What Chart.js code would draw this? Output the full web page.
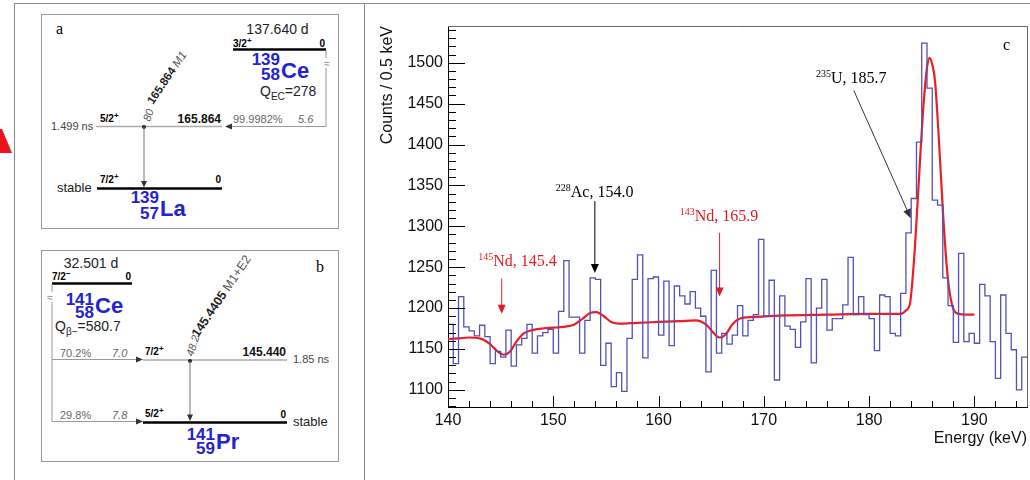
<!DOCTYPE html>
<html><head><meta charset="utf-8">
<script src="https://cdn.jsdelivr.net/npm/chart.js@4.4.1/dist/chart.umd.min.js"></script>
<style>
html,body{margin:0;padding:0;background:#fff;}
#wrap{position:relative;width:1030px;height:480px;overflow:hidden;background:#fff;}
#scheme{position:absolute;left:0;top:0;}
#c{position:absolute;left:365px;top:0;}
</style></head><body>
<div id="wrap">
<svg id="scheme" width="1030" height="480" xmlns="http://www.w3.org/2000/svg" font-family="Liberation Sans, Arial, sans-serif">
  <polygon points="0,129 2,129 12,153 0,153" fill="#e8141e"/>
  <rect x="14.5" y="3.5" width="350" height="490" fill="none" stroke="#8a8a8a" stroke-width="1"/>
  <line x1="364" y1="3.5" x2="1030" y2="3.5" stroke="#8a8a8a" stroke-width="1"/>
  <!-- panel a -->
  <rect x="41.5" y="14.5" width="297" height="214" fill="none" stroke="#9a9a9a" stroke-width="1"/>
  <text x="56" y="34" font-family="Liberation Serif, Times New Roman, serif" font-size="16">a</text>
  <text x="277.5" y="33.5" font-size="14" text-anchor="middle" fill="#222">137.640 d</text>
  <text x="233" y="47" font-size="10" font-weight="bold">3/2<tspan dy="-4" font-size="8">+</tspan></text>
  <text x="325" y="47" font-size="10" font-weight="bold" text-anchor="end">0</text>
  <line x1="233" y1="49.5" x2="326" y2="49.5" stroke="#000" stroke-width="2.5"/>
  <text x="280" y="65" font-size="17" font-weight="bold" fill="#2323d2" text-anchor="end">139</text>
  <text x="280" y="80" font-size="17" font-weight="bold" fill="#2323d2" text-anchor="end">58</text>
  <text x="281" y="78" font-size="22" font-weight="bold" fill="#2323d2">Ce</text>
  <line x1="326" y1="50" x2="326" y2="58" stroke="#999" stroke-width="1"/>
  <text x="327" y="67" font-size="10" fill="#777" text-anchor="middle">≈</text>
  <line x1="326" y1="68" x2="326" y2="126.5" stroke="#999" stroke-width="1"/>
  <line x1="326" y1="126.5" x2="231" y2="126.5" stroke="#999" stroke-width="1"/>
  <polygon points="225,126.5 232,123.5 232,129.5" fill="#333"/>
  <text x="260" y="96" font-size="14" fill="#222">Q<tspan font-size="10" dy="4">EC</tspan><tspan font-size="14" dy="-4">=278</tspan></text>
  <text x="51" y="130" font-size="11" fill="#444">1.499 ns</text>
  <text x="100" y="122" font-size="10" font-weight="bold">5/2<tspan dy="-4" font-size="8">+</tspan></text>
  <line x1="96" y1="126.5" x2="222" y2="126.5" stroke="#aaa" stroke-width="1.5"/>
  <text x="221" y="123" font-size="12" font-weight="bold" text-anchor="end" fill="#111">165.864</text>
  <text x="233" y="123" font-size="11" fill="#666">99.9982%</text>
  <text x="298" y="123" font-size="11" font-style="italic" fill="#666">5.6</text>
  <text transform="translate(150,122) rotate(-72)" font-size="11" font-style="italic" fill="#555">80</text>
  <text transform="translate(153,105) rotate(-56)" font-size="11.5" fill="#222"><tspan font-weight="bold">165.864</tspan><tspan font-style="italic" fill="#555"> M1</tspan></text>
  <circle cx="144" cy="127" r="2" fill="#222"/>
  <line x1="144" y1="127" x2="144" y2="182" stroke="#777" stroke-width="1"/>
  <polygon points="144,187.5 141,181 147,181" fill="#333"/>
  <text x="57" y="192" font-size="13" fill="#222">stable</text>
  <text x="100" y="183" font-size="10" font-weight="bold">7/2<tspan dy="-4" font-size="8">+</tspan></text>
  <text x="221" y="183" font-size="10" font-weight="bold" text-anchor="end">0</text>
  <line x1="97" y1="188.5" x2="222" y2="188.5" stroke="#000" stroke-width="2.5"/>
  <text x="159" y="203" font-size="17" font-weight="bold" fill="#2323d2" text-anchor="end">139</text>
  <text x="159" y="219" font-size="17" font-weight="bold" fill="#2323d2" text-anchor="end">57</text>
  <text x="160" y="216" font-size="22" font-weight="bold" fill="#2323d2">La</text>
  <!-- panel b -->
  <rect x="41.5" y="250.5" width="297" height="211" fill="none" stroke="#9a9a9a" stroke-width="1"/>
  <text x="316" y="272" font-family="Liberation Serif, Times New Roman, serif" font-size="16">b</text>
  <text x="91" y="268" font-size="14" text-anchor="middle" fill="#222">32.501 d</text>
  <text x="52" y="280" font-size="10" font-weight="bold">7/2<tspan dy="-4" font-size="8">−</tspan></text>
  <text x="131" y="280" font-size="10" font-weight="bold" text-anchor="end">0</text>
  <line x1="52" y1="283.5" x2="132" y2="283.5" stroke="#000" stroke-width="2.5"/>
  <line x1="52" y1="284" x2="52" y2="292" stroke="#999" stroke-width="1"/>
  <text x="50" y="301" font-size="10" fill="#777" text-anchor="middle">≈</text>
  <line x1="52" y1="302" x2="52" y2="421.5" stroke="#999" stroke-width="1"/>
  <text x="94" y="305" font-size="17" font-weight="bold" fill="#2323d2" text-anchor="end">141</text>
  <text x="94" y="318" font-size="17" font-weight="bold" fill="#2323d2" text-anchor="end">58</text>
  <text x="95" y="313" font-size="22" font-weight="bold" fill="#2323d2">Ce</text>
  <text x="55" y="331" font-size="14" fill="#222">Q<tspan font-size="10" dy="4">β−</tspan><tspan font-size="14" dy="-4">=580.7</tspan></text>
  <line x1="52" y1="359.5" x2="137" y2="359.5" stroke="#999" stroke-width="1"/>
  <polygon points="143,359.5 136,356.5 136,362.5" fill="#333"/>
  <text x="60" y="357" font-size="11" fill="#666">70.2%</text>
  <text x="112" y="357" font-size="11" font-style="italic" fill="#666">7.0</text>
  <text x="145" y="355" font-size="10" font-weight="bold">7/2<tspan dy="-4" font-size="8">+</tspan></text>
  <line x1="143" y1="360" x2="287" y2="360" stroke="#aaa" stroke-width="1.5"/>
  <text x="286" y="356" font-size="12" font-weight="bold" text-anchor="end" fill="#111">145.440</text>
  <text x="293" y="363" font-size="11" fill="#444">1.85 ns</text>
  <text transform="translate(193,357) rotate(-72)" font-size="11" font-style="italic" fill="#555">48.2</text>
  <text transform="translate(198,338) rotate(-56)" font-size="12.5" fill="#222"><tspan font-weight="bold">145.4405</tspan><tspan fill="#555"> M1+E2</tspan></text>
  <circle cx="190" cy="361" r="2" fill="#222"/>
  <line x1="190" y1="361" x2="190" y2="416" stroke="#777" stroke-width="1"/>
  <polygon points="190,421 187,414.5 193,414.5" fill="#333"/>
  <line x1="52" y1="421.5" x2="137" y2="421.5" stroke="#999" stroke-width="1"/>
  <polygon points="143,421.5 136,418.5 136,424.5" fill="#333"/>
  <text x="60" y="419" font-size="11" fill="#666">29.8%</text>
  <text x="112" y="419" font-size="11" font-style="italic" fill="#666">7.8</text>
  <text x="145" y="417" font-size="10" font-weight="bold">5/2<tspan dy="-4" font-size="8">+</tspan></text>
  <line x1="143" y1="422.5" x2="287" y2="422.5" stroke="#000" stroke-width="2.5"/>
  <text x="286" y="418" font-size="10" font-weight="bold" text-anchor="end">0</text>
  <text x="293" y="426" font-size="13" fill="#222">stable</text>
  <text x="215" y="440" font-size="17" font-weight="bold" fill="#2323d2" text-anchor="end">141</text>
  <text x="215" y="454" font-size="17" font-weight="bold" fill="#2323d2" text-anchor="end">59</text>
  <text x="216" y="449" font-size="22" font-weight="bold" fill="#2323d2">Pr</text>
</svg>
<canvas id="c" width="665" height="480"></canvas>
</div>
<script>
// ---- data ----
const BIN_START = 140;
const BIN_WIDTH = 0.5;
const counts = [
 1180,1132,1214,1177,1172,1166,1179,1165,1132,1147,
 1140,1173,1129,1155,1163,1180,1145,1166,1170,1174,
 1145,1196,1258,1189,1189,1145,1185,1237,1235,1130,
 1157,1104,1121,1098,1163,1235,1265,1139,1236,1238,
 1167,1233,1154,1227,1215,1205,1220,1200,1190,1122,
 1246,1145,1169,1156,1167,1203,1166,1185,1192,1284,
 1190,1234,1112,1215,1178,1174,1152,1183,1236,1133,
 1200,1235,1173,1187,1187,1204,1262,1192,1214,1192,
 1187,1148,1216,1214,1169,1166,1218,1292,1334,1403,
 1524,1469,1332,1326,1237,1203,1158,1267,1159,1169,
 1157,1229,1215,1159,1114,1216,1169,1149,1100,1140
];
const fitEnergy = [140,141,142,143,144,144.7,145.3,145.9,146.5,147.2,148,149,150,151,152,152.8,153.5,154.1,154.8,155.5,156.3,158,160,162,163.5,164.5,165.2,165.8,166.4,167,167.7,169,172,176,180,183,183.5,183.9,184.35,184.73,185.15,185.5,185.75,186.0,186.26,186.64,187.05,187.47,187.9,188.5,189.2,190];
const fitCounts = [1162,1163,1164,1163,1156,1147,1143,1147,1159,1169,1173,1175,1176,1177,1180,1187,1194,1195,1190,1183,1181,1182,1183,1184,1185,1180,1170,1164,1168,1180,1187,1189,1191,1192,1193,1193,1197,1207,1274,1357,1445,1494,1506,1498,1478,1404,1310,1238,1203,1193,1192,1192];
const xTickLabels = [140,150,160,170,180,190];
const yTickLabels = [1100,1150,1200,1250,1300,1350,1400,1450,1500];
const peakLabels = [
  {sup:'145', text:'Nd, 145.4', energy:145.4},
  {sup:'228', text:'Ac, 154.0', energy:154.0},
  {sup:'143', text:'Nd, 165.9', energy:165.9},
  {sup:'235', text:'U, 185.7',  energy:185.7}
];

// ---- chart ----
const histPoints = counts.map((c,i)=>({x: BIN_START + i*BIN_WIDTH, y: c}));
histPoints.push({x: BIN_START + counts.length*BIN_WIDTH, y: counts[counts.length-1]});
const fitPoints = fitEnergy.map((e,i)=>({x:e, y:fitCounts[i]}));

const SERIF = "'Liberation Serif','Times New Roman',serif";
const SANS = "'Liberation Sans',Arial,sans-serif";

function supLabel(ctx, sup, text, cx, by, color){
  ctx.save();
  ctx.fillStyle = color;
  ctx.textBaseline = 'alphabetic';
  ctx.font = '10px ' + SERIF;
  const ws = ctx.measureText(sup).width;
  ctx.font = '16px ' + SERIF;
  const wt = ctx.measureText(text).width;
  const x0 = cx - (ws + wt)/2;
  ctx.font = '10px ' + SERIF;
  ctx.fillText(sup, x0, by - 6);
  ctx.font = '16px ' + SERIF;
  ctx.fillText(text, x0 + ws, by);
  ctx.restore();
}
function arrow(ctx, x1, y1, x2, y2, color, w){
  ctx.save();
  ctx.strokeStyle = color; ctx.fillStyle = color; ctx.lineWidth = w;
  const a = Math.atan2(y2-y1, x2-x1);
  const L = 9, H = 4;
  ctx.beginPath(); ctx.moveTo(x1,y1); ctx.lineTo(x2 - L*0.8*Math.cos(a), y2 - L*0.8*Math.sin(a)); ctx.stroke();
  ctx.beginPath();
  ctx.moveTo(x2,y2);
  ctx.lineTo(x2 - L*Math.cos(a) + H*Math.sin(a), y2 - L*Math.sin(a) - H*Math.cos(a));
  ctx.lineTo(x2 - L*Math.cos(a) - H*Math.sin(a), y2 - L*Math.sin(a) + H*Math.cos(a));
  ctx.closePath(); ctx.fill();
  ctx.restore();
}

const decor = {
  id: 'decor',
  afterDraw(chart){
    const {ctx, chartArea: a, scales:{x, y}} = chart;
    ctx.save();
    ctx.strokeStyle = '#666'; ctx.lineWidth = 1;
    ctx.beginPath();
    ctx.moveTo(a.left, a.top+0.5); ctx.lineTo(a.right+0.5, a.top+0.5); ctx.lineTo(a.right+0.5, a.bottom);
    ctx.stroke();
    ctx.strokeStyle = '#000';
    ctx.beginPath();
    for (let v = 1080; v <= 1540; v += 10){
      const py = Math.round(y.getPixelForValue(v)) + 0.5;
      const len = (v % 50 === 0) ? 17 : 8;
      ctx.moveTo(a.left, py); ctx.lineTo(a.left + len, py);
    }
    for (let e = 140; e <= 194; e += 2){
      const px = Math.round(x.getPixelForValue(e)) + 0.5;
      const len = (e % 10 === 0) ? 11 : 6;
      ctx.moveTo(px, a.bottom); ctx.lineTo(px, a.bottom - len);
    }
    ctx.stroke();
    ctx.fillStyle = '#000';
    ctx.font = '16px ' + SERIF;
    ctx.fillText('c', a.right - 24, 50);
    const red = '#e31b23';
    const P = (e,v)=>[x.getPixelForValue(e), y.getPixelForValue(v)];
    let p;
    p = P(146.6, 1252); supLabel(ctx, peakLabels[0].sup, peakLabels[0].text, p[0], p[1], red);
    arrow(ctx, ...P(145.1, 1236), ...P(145.1, 1193), red, 1);
    p = P(153.93, 1336); supLabel(ctx, peakLabels[1].sup, peakLabels[1].text, p[0], p[1], '#000');
    arrow(ctx, ...P(153.95, 1331), ...P(153.95, 1243), '#000', 1);
    p = P(165.74, 1306.5); supLabel(ctx, peakLabels[2].sup, peakLabels[2].text, p[0], p[1], red);
    arrow(ctx, ...P(165.8, 1292), ...P(165.8, 1214), red, 1);
    p = P(178.3, 1475); supLabel(ctx, peakLabels[3].sup, peakLabels[3].text, p[0], p[1], '#000');
    arrow(ctx, ...P(178.55, 1466), ...P(183.95, 1310), '#333', 1);
    ctx.restore();
  }
};

new Chart(document.getElementById('c'), {
  type: 'line',
  data: {
    datasets: [
      {label:'data', data: histPoints, stepped:'before', borderColor:'#5252b4', borderWidth:1.3, pointRadius:0, fill:false},
      {label:'fit', data: fitPoints, borderColor:'#ee1c25', borderWidth:2.2, pointRadius:0, fill:false, cubicInterpolationMode:'monotone'}
    ]
  },
  options: {
    responsive:false, animation:false, devicePixelRatio:1,
    layout:{padding:{left:0,right:3,top:26,bottom:0}},
    plugins:{legend:{display:false}, tooltip:{enabled:false}},
    scales:{
      x:{type:'linear', min:140, max:195,
        afterFit(s){ s.height = 73; },
        afterBuildTicks(s){ s.ticks = xTickLabels.map(v=>({value:v})); },
        grid:{drawOnChartArea:false, drawTicks:false},
        border:{display:true, color:'#000', width:1},
        ticks:{padding:4, color:'#111', font:{family:SANS, size:16}, maxRotation:0, autoSkip:false, callback:(v)=>String(v)},
        title:{display:true, text:'Energy (keV)', align:'end', color:'#111', font:{family:SANS, size:16}, padding:{top:0,bottom:32}}
      },
      y:{type:'linear', min:1079, max:1545,
        afterFit(s){ s.width = 83; },
        afterBuildTicks(s){ s.ticks = yTickLabels.map(v=>({value:v})); },
        grid:{drawOnChartArea:false, drawTicks:false},
        border:{display:true, color:'#000', width:1},
        ticks:{padding:5, color:'#111', font:{family:SANS, size:16}, autoSkip:false, callback:(v)=>String(v)},
        title:{display:true, text:'Counts / 0.5 keV', align:'end', color:'#111', font:{family:SANS, size:16}, padding:{top:13,bottom:0}}
      }
    }
  },
  plugins:[decor]
});
</script>
</body></html>
